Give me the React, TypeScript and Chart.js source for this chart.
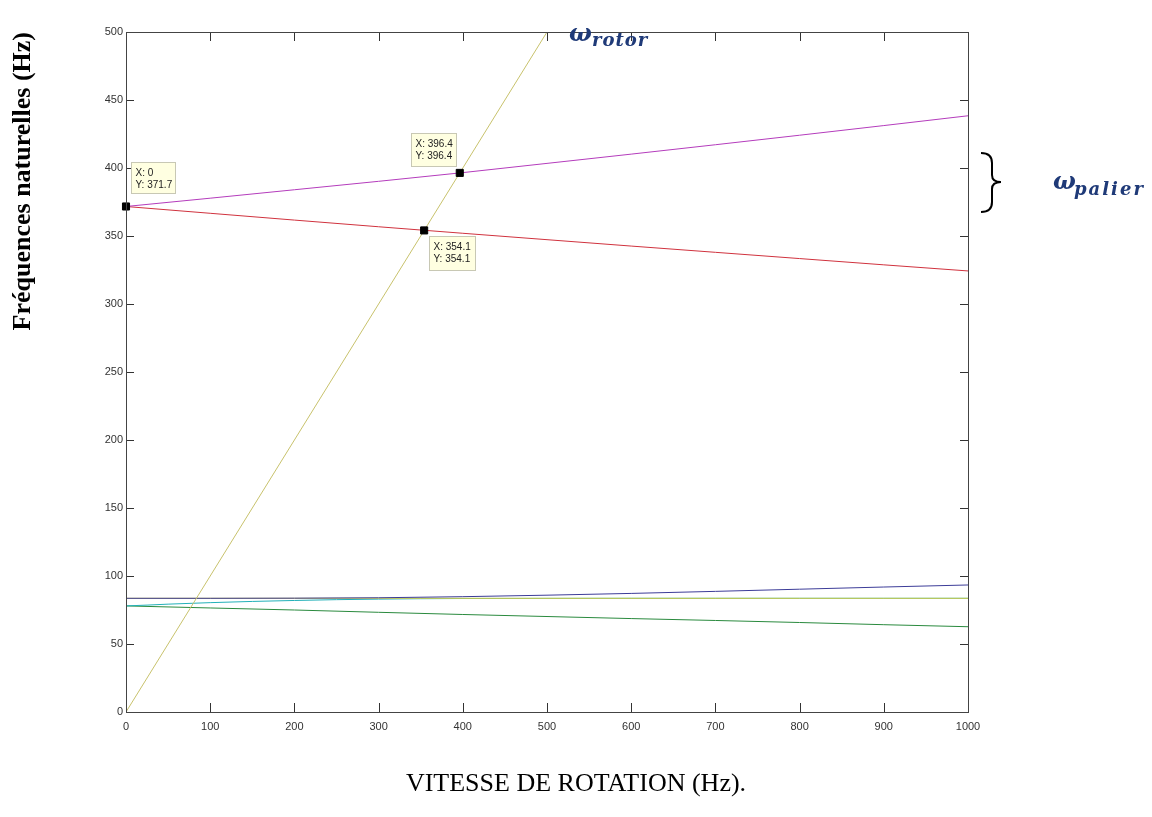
import React, { useEffect, useRef } from "react";
import { Chart, registerables } from "chart.js";

Chart.register(...registerables);

// ---- data ----
const speedX = [0, 100, 200, 300, 400, 500, 600, 700, 800, 900, 1000];
const palierUpY = [371.7, 377.8, 384.0, 390.2, 396.6, 403.4, 410.2, 417.1, 424.1, 431.2, 438.4];
const palierDownY = [371.7, 366.7, 361.7, 356.8, 352.0, 347.3, 342.6, 338.0, 333.4, 328.8, 324.3];
const mode1UpY = [83.6, 83.6, 83.7, 84.0, 84.8, 85.9, 87.2, 88.7, 90.3, 91.9, 93.4];
const mode1DownY = [78.0, 76.5, 75.0, 73.3, 71.7, 70.2, 68.7, 67.3, 65.8, 64.2, 62.7];
const mode2X = [0, 25, 50, 100, 150, 200, 250, 300, 350, 400, 500, 600, 700, 800, 900, 1000];
const mode2Y = [78.0, 78.6, 79.3, 80.4, 81.3, 82.0, 82.6, 83.0, 83.3, 83.45, 83.55, 83.6, 83.6, 83.6, 83.6, 83.6];
const mode3Y = [83.6, 83.6, 83.6, 83.6, 83.6, 83.6, 83.6, 83.6, 83.6, 83.6, 83.6];
const rotorX = [0, 500];
const rotorY = [0, 500];
const tipX = [0, 396.4, 354.1];
const tipY = [371.7, 396.4, 354.1];
const tipLabelsX = ["X: 0", "X: 396.4", "X: 354.1"];
const tipLabelsY = ["Y: 371.7", "Y: 396.4", "Y: 354.1"];
const xTitle = "VITESSE DE ROTATION (Hz).";
const yTitle = "Fréquences naturelles (Hz)";

const pts = (xs: number[], ys: number[]) => xs.map((x, i) => ({ x, y: ys[i] }));

// box offsets (style) relative to marker pixel
const tipBoxOffsets = [
  { dx: 5, dy: -44, w: 44, h: 31 },
  { dx: -49, dy: -40, w: 45, h: 33 },
  { dx: 5, dy: 6, w: 46, h: 34 },
];

const decorPlugin = {
  id: "decor",
  afterDatasetsDraw(chart: any) {
    const { ctx, chartArea: a, scales } = chart;
    const xs = scales.x;
    const ys = scales.y;
    ctx.save();
    // inward ticks
    ctx.strokeStyle = "#333";
    ctx.lineWidth = 1;
    ctx.beginPath();
    xs.ticks.forEach((t: any) => {
      const px = Math.round(xs.getPixelForValue(t.value)) + 0.5;
      ctx.moveTo(px, a.bottom);
      ctx.lineTo(px, a.bottom - 9);
      ctx.moveTo(px, a.top);
      ctx.lineTo(px, a.top + 9);
    });
    ys.ticks.forEach((t: any) => {
      const py = Math.round(ys.getPixelForValue(t.value)) + 0.5;
      ctx.moveTo(a.left, py);
      ctx.lineTo(a.left + 8, py);
      ctx.moveTo(a.right, py);
      ctx.lineTo(a.right - 8, py);
    });
    ctx.stroke();
    // frame
    ctx.strokeStyle = "#444";
    ctx.strokeRect(
      Math.round(a.left) + 0.5,
      Math.round(a.top) + 0.5,
      Math.round(a.right - a.left),
      Math.round(a.bottom - a.top)
    );

    // data tips
    ctx.font = "10px 'Liberation Sans', Arial, sans-serif";
    ctx.textBaseline = "alphabetic";
    tipX.forEach((vx, i) => {
      const mx = xs.getPixelForValue(vx);
      const my = ys.getPixelForValue(tipY[i]);
      const o = tipBoxOffsets[i];
      const bx = Math.round(mx + o.dx) + 0.5;
      const by = Math.round(my + o.dy) + 0.5;
      ctx.fillStyle = "#ffffe1";
      ctx.fillRect(bx, by, o.w, o.h);
      ctx.strokeStyle = "#c8c8b4";
      ctx.strokeRect(bx, by, o.w, o.h);
      ctx.fillStyle = "#222";
      ctx.fillText(tipLabelsX[i], bx + 4, by + 13);
      ctx.fillText(tipLabelsY[i], bx + 4, by + 25);
    });

    // omega annotations
    ctx.fillStyle = "#1f3a78";
    ctx.font = "italic bold 24px 'DejaVu Serif', serif";
    ctx.fillText("ω", 569, 41);
    ctx.font = "italic bold 18px 'DejaVu Serif', serif";
    (ctx as any).letterSpacing = "1px";
    ctx.fillText("rotor", 592, 46);
    (ctx as any).letterSpacing = "0px";
    ctx.font = "italic bold 24px 'DejaVu Serif', serif";
    ctx.fillText("ω", 1053, 189);
    ctx.font = "italic bold 18px 'DejaVu Serif', serif";
    (ctx as any).letterSpacing = "2px";
    ctx.fillText("palier", 1074, 195);
    (ctx as any).letterSpacing = "0px";

    // brace
    ctx.strokeStyle = "#000";
    ctx.lineWidth = 2;
    ctx.beginPath();
    ctx.moveTo(981, 153);
    ctx.quadraticCurveTo(992, 153, 992, 163);
    ctx.lineTo(992, 175);
    ctx.quadraticCurveTo(992, 182, 1001, 182);
    ctx.quadraticCurveTo(992, 182, 992, 189);
    ctx.lineTo(992, 202);
    ctx.quadraticCurveTo(992, 212, 981, 212);
    ctx.stroke();
    ctx.restore();
  },
};

const line = (label: string, data: any[], color: string) => ({
  label,
  data,
  borderColor: color,
  backgroundColor: color,
  borderWidth: 1,
  pointRadius: 0,
  showLine: true,
  tension: 0,
  fill: false,
});

export default function App() {
  const ref = useRef<HTMLCanvasElement | null>(null);
  useEffect(() => {
    if (!ref.current) return;
    const tickFont = { family: "'Liberation Sans', Arial, sans-serif", size: 11 };
    const chart = new Chart(ref.current, {
      type: "scatter",
      data: {
        // Chart.js paints index 0 on top, so listed from topmost to bottom
        datasets: [
          {
            label: "tips",
            data: pts(tipX, tipY),
            pointStyle: "rect",
            pointRadius: 5,
            pointBackgroundColor: "#000",
            pointBorderColor: "#000",
            showLine: false,
            clip: false,
          } as any,
          line("rotor", pts(rotorX, rotorY), "#c8c26c"),
          line("mode1Up", pts(speedX, mode1UpY), "#3c3c98"),
          line("mode3", pts(speedX, mode3Y), "#d2ca48"),
          line("palierUp", pts(speedX, palierUpY), "#b43cbc"),
          line("mode2", pts(mode2X, mode2Y), "#22b0b8"),
          line("palierDown", pts(speedX, palierDownY), "#d0323e"),
          line("mode1Down", pts(speedX, mode1DownY), "#2a8a3e"),
        ],
      },
      options: {
        animation: false,
        responsive: false,
        layout: { padding: { top: 32, right: 0, left: 0, bottom: 0 } },
        plugins: {
          legend: { display: false },
          tooltip: { enabled: false },
          title: {
            display: true,
            position: "bottom",
            text: xTitle,
            color: "#000",
            font: { family: "'Liberation Serif', 'Times New Roman', serif", size: 26, weight: "normal" },
            padding: { top: 26.4, bottom: 17.4 },
          },
        },
        scales: {
          x: {
            type: "linear",
            min: 0,
            max: 1000,
            grid: { display: false, drawTicks: false },
            border: { display: false },
            ticks: {
              stepSize: 100,
              padding: 8,
              color: "#333",
              font: tickFont,
              maxRotation: 0,
              callback: (v: any) => String(v),
            },
            afterFit: (s: any) => {
              s.height = 30;
            },
          },
          y: {
            type: "linear",
            min: 0,
            max: 500,
            grid: { display: false, drawTicks: false },
            border: { display: false },
            ticks: {
              stepSize: 50,
              padding: 3,
              color: "#333",
              font: tickFont,
              callback: (v: any) => String(v),
            },
            title: {
              display: true,
              text: yTitle,
              align: "end",
              color: "#000",
              font: { family: "'Liberation Serif', 'Times New Roman', serif", size: 26, weight: "bold" },
              padding: { top: 8, bottom: 0 },
            },
            afterFit: (s: any) => {
              s.width = 126;
            },
          },
          yRight: {
            type: "linear",
            position: "right",
            min: 0,
            max: 500,
            grid: { display: false, drawTicks: false },
            border: { display: false },
            ticks: { display: false },
            afterFit: (s: any) => {
              s.width = 184;
            },
          },
        },
      },
      plugins: [decorPlugin],
    } as any);
    return () => chart.destroy();
  }, []);
  return (
    <div style={{ position: "absolute", left: 0, top: 0, width: 1152, height: 817, background: "#fff" }}>
      <canvas ref={ref} width={1152} height={817} style={{ display: "block" }} />
    </div>
  );
}
